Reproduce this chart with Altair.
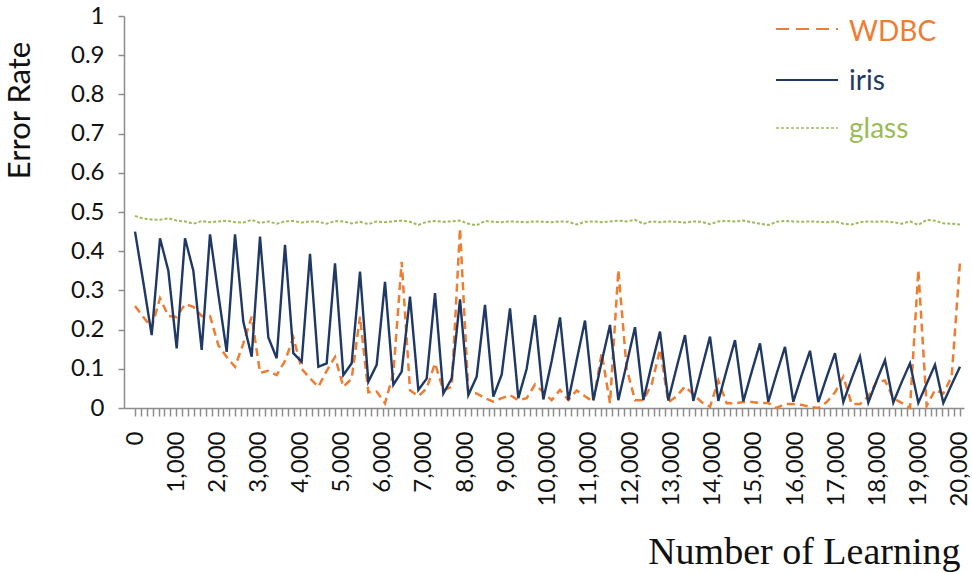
import altair as alt
import pandas as pd

# ---- data ----
STEP_COUNT = 100
LEARNING = [i * 20000 / 99 for i in range(STEP_COUNT)]

WDBC = [0.260, 0.232, 0.205, 0.280, 0.235, 0.232, 0.265, 0.258, 0.235, 0.235,
        0.160, 0.130, 0.105, 0.165, 0.233, 0.090, 0.095, 0.084, 0.120, 0.180,
        0.100, 0.076, 0.054, 0.095, 0.130, 0.054, 0.075, 0.233, 0.040, 0.042,
        0.012, 0.088, 0.373, 0.045, 0.030, 0.050, 0.114, 0.045, 0.054, 0.458,
        0.040, 0.037, 0.025, 0.016, 0.025, 0.033, 0.020, 0.025, 0.060, 0.040,
        0.020, 0.046, 0.020, 0.045, 0.030, 0.016, 0.140, 0.012, 0.352, 0.100,
        0.020, 0.020, 0.060, 0.150, 0.015, 0.030, 0.055, 0.035, 0.015, 0.003,
        0.070, 0.012, 0.012, 0.015, 0.015, 0.013, 0.013, 0.000, 0.010, 0.010,
        0.008, 0.003, 0.000, 0.015, 0.040, 0.080, 0.010, 0.010, 0.030, 0.067,
        0.070, 0.025, 0.013, 0.000, 0.352, 0.005, 0.046, 0.037, 0.080, 0.373]

IRIS = [0.450, 0.320, 0.186, 0.433, 0.350, 0.152, 0.433, 0.350, 0.148, 0.443,
        0.290, 0.143, 0.443, 0.220, 0.131, 0.437, 0.180, 0.127, 0.416, 0.140,
        0.118, 0.393, 0.105, 0.114, 0.369, 0.084, 0.114, 0.348, 0.067, 0.110,
        0.322, 0.059, 0.093, 0.284, 0.046, 0.075, 0.293, 0.037, 0.075, 0.277,
        0.033, 0.080, 0.263, 0.029, 0.085, 0.254, 0.025, 0.100, 0.237, 0.022,
        0.120, 0.231, 0.020, 0.122, 0.223, 0.020, 0.118, 0.212, 0.020, 0.113,
        0.206, 0.020, 0.110, 0.195, 0.019, 0.104, 0.186, 0.018, 0.100, 0.182,
        0.018, 0.097, 0.173, 0.017, 0.092, 0.165, 0.016, 0.088, 0.156, 0.016,
        0.083, 0.146, 0.015, 0.079, 0.140, 0.015, 0.075, 0.131, 0.014, 0.070,
        0.122, 0.014, 0.066, 0.114, 0.013, 0.062, 0.110, 0.013, 0.060, 0.105]

GLASS = [0.490, 0.483, 0.481, 0.480, 0.484, 0.478, 0.476, 0.470, 0.477, 0.474,
         0.476, 0.478, 0.474, 0.473, 0.480, 0.472, 0.476, 0.470, 0.476, 0.477,
         0.473, 0.476, 0.475, 0.470, 0.477, 0.476, 0.471, 0.475, 0.469, 0.476,
         0.474, 0.476, 0.478, 0.475, 0.467, 0.475, 0.477, 0.475, 0.476, 0.478,
         0.470, 0.466, 0.477, 0.475, 0.474, 0.476, 0.475, 0.474, 0.476, 0.475,
         0.474, 0.476, 0.475, 0.468, 0.475, 0.476, 0.474, 0.476, 0.478, 0.476,
         0.480, 0.470, 0.476, 0.474, 0.476, 0.475, 0.473, 0.476, 0.475, 0.469,
         0.476, 0.477, 0.476, 0.478, 0.474, 0.470, 0.467, 0.475, 0.477, 0.476,
         0.475, 0.476, 0.475, 0.474, 0.476, 0.470, 0.468, 0.474, 0.476, 0.475,
         0.476, 0.474, 0.470, 0.476, 0.467, 0.480, 0.478, 0.471, 0.470, 0.468]

SERIES = ["WDBC", "iris", "glass"]
COLORS = ["#ED7D31", "#1F3864", "#9BBB59"]
X_TICKS = [k * 1000 / 7 for k in range(141)]
Y_TICKS = [round(k / 10, 1) for k in range(11)]

df = pd.DataFrame({
    "learning": LEARNING * 3,
    "error": WDBC + IRIS + GLASS,
    "series": ["WDBC"] * STEP_COUNT + ["iris"] * STEP_COUNT + ["glass"] * STEP_COUNT,
})

AXIS_GRAY = "#8C8C8C"
TICK_FONT = "Lato"

x_enc = alt.X(
    "learning:Q",
    scale=alt.Scale(domain=[-267, 20097], nice=False, zero=False),
    axis=alt.Axis(
        values=X_TICKS,
        labelExpr="datum.value % 1000 === 0 ? format(datum.value, ',') : ''",
        labelAngle=270,
        labelFont=TICK_FONT, labelFontSize=24, labelColor="#111111",
        labelPadding=15, labelOverlap=False, labelFlush=False, labelBound=False,
        grid=False, domainColor=AXIS_GRAY, domainWidth=1.5,
        tickColor=AXIS_GRAY, tickSize=8, tickWidth=1.5,
        title="Number of Learning", titleFont="Liberation Serif", titleFontSize=38,
        titleFontWeight="normal", titleColor="#111111",
        titleX=836, titleY=155, titleAlign="right", titleBaseline="alphabetic",
    ),
)
y_enc = alt.Y(
    "error:Q",
    scale=alt.Scale(domain=[0, 1], nice=False, zero=True),
    axis=alt.Axis(
        values=Y_TICKS, format="~g",
        labelFont=TICK_FONT, labelFontSize=24, labelColor="#111111",
        labelPadding=14,
        grid=False, domainColor=AXIS_GRAY, domainWidth=1.5,
        tickColor=AXIS_GRAY, tickSize=6, tickWidth=1.5,
        title="Error Rate", titleFont=TICK_FONT, titleFontSize=31,
        titleFontWeight="normal", titleColor="#111111",
        titleX=-104, titleY=94, titleAngle=270, titleAlign="center", titleBaseline="middle",
    ),
)

base = alt.Chart(df)
wdbc_line = base.transform_filter(alt.datum.series == "WDBC").mark_line(
    color=COLORS[0], strokeWidth=2.5, strokeDash=[8, 5]
).encode(x=x_enc, y=y_enc)
iris_line = base.transform_filter(alt.datum.series == "iris").mark_line(
    color=COLORS[1], strokeWidth=2.4
).encode(x=x_enc, y=y_enc)
glass_line = base.transform_filter(alt.datum.series == "glass").mark_line(
    color=COLORS[2], strokeWidth=2, strokeDash=[3, 2]
).encode(x=x_enc, y=y_enc)

# ---- legend (manual, top right) ----
legend_df = pd.DataFrame({"name": SERIES})
LEG_LINE_Y = [13, 64, 112]
LEG_TEXT_Y = [25, 74, 122]
LEG_DASH = [[13, 7], [1, 0], [3, 2]]
legend_layers = []
for name, color, ly, ty, dash in zip(SERIES, COLORS, LEG_LINE_Y, LEG_TEXT_Y, LEG_DASH):
    src = alt.Chart(legend_df).transform_filter(alt.datum.name == name)
    legend_layers.append(
        src.mark_rule(color=color, strokeWidth=2 if name != "glass" else 1.5, strokeDash=dash).encode(
            x=alt.value(652), x2=alt.value(714), y=alt.value(ly)
        )
    )
    legend_layers.append(
        src.mark_text(align="left", baseline="alphabetic", font=TICK_FONT, fontSize=28, color=color).encode(
            x=alt.value(725), y=alt.value(ty), text="name:N"
        )
    )

chart = alt.layer(wdbc_line, iris_line, glass_line, *legend_layers).properties(
    width=840, height=392,
    autosize=alt.AutoSizeParams(type="none"),
    padding={"left": 124, "top": 16, "right": 8, "bottom": 165},
    background="white",
).configure_view(stroke=None)

chart.save("out.html", embed_options={"renderer": "svg", "actions": False})
